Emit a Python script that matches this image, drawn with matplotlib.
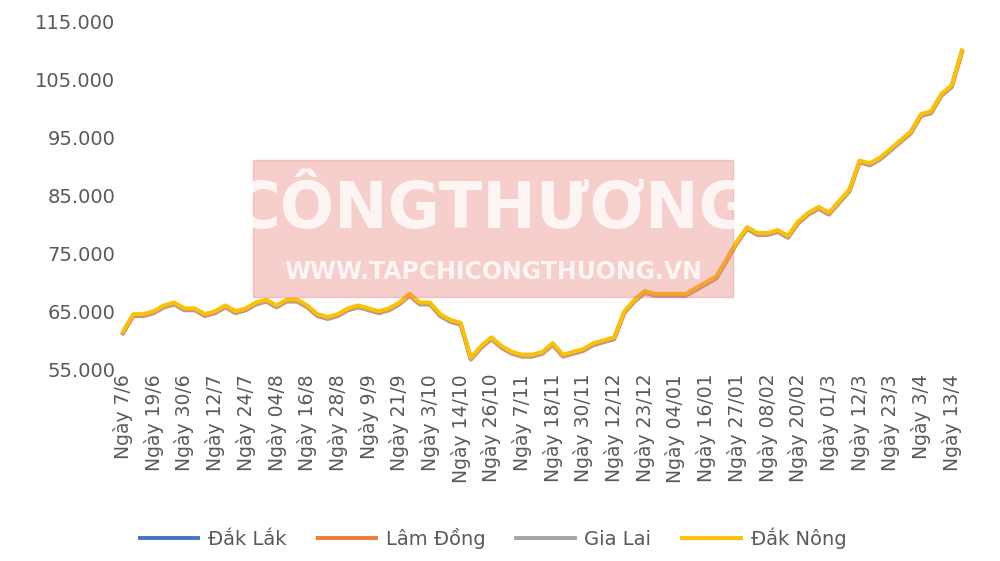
import matplotlib
matplotlib.use("Agg")
import matplotlib.pyplot as plt
import numpy as np

tick_labels = ["Ngày 7/6","Ngày 19/6","Ngày 30/6","Ngày 12/7","Ngày 24/7","Ngày 04/8","Ngày 16/8",
 "Ngày 28/8","Ngày 9/9","Ngày 21/9","Ngày 3/10","Ngày 14/10","Ngày 26/10","Ngày 7/11","Ngày 18/11",
 "Ngày 30/11","Ngày 12/12","Ngày 23/12","Ngày 04/01","Ngày 16/01","Ngày 27/01","Ngày 08/02",
 "Ngày 20/02","Ngày 01/3","Ngày 12/3","Ngày 23/3","Ngày 3/4","Ngày 13/4"]
dak_nong = [61.5,64.5,64.5, 65,66,66.5, 65.5,65.5,64.5, 65,66,65, 65.5,66.5,67, 66,67,67,
 66,64.5,64, 64.5,65.5,66, 65.5,65,65.5, 66.5,68,66.5,
 66.5,64.5,63.5, 63,57,59, 60.5,59,58, 57.5,57.5,58, 59.5,57.5,58, 58.5,59.5,60, 60.5,65,67,
 68.5,68,68, 68,68,69,
 70,71,74, 77,79.5,78.5, 78.5,79,78, 80.5,82,83, 82,84,86, 91,90.5,91.5, 93,94.5,96,
 99,99.5,102.5, 104,110]
series = {"Đắk Lắk": -0.15, "Lâm Đồng": -0.35, "Gia Lai": -0.25, "Đắk Nông": 0.0}
colors = {"Đắk Lắk": "#4472C4", "Lâm Đồng": "#ED7D31", "Gia Lai": "#A5A5A5", "Đắk Nông": "#FFC000"}

fig = plt.figure(figsize=(10, 5.61), dpi=100)
ax = fig.add_axes([0.12, 0.342, 0.845, 0.62])
x = np.arange(len(dak_nong))
for name, off in series.items():
    ax.plot(x, np.array(dak_nong) + off, color=colors[name], lw=2.8, label=name)
ax.set_xlim(-0.3, x[-1] + 0.3)
ax.set_ylim(55, 115)
ax.set_yticks(np.arange(55, 116, 10))
ax.set_yticklabels([f"{v}.000" for v in range(55, 116, 10)], fontsize=14, color="#595959")
ax.set_xticks(np.arange(0, len(dak_nong), 3))
ax.set_xticklabels(tick_labels, rotation=90, fontsize=13.5, color="#595959")
for s in ax.spines.values():
    s.set_visible(False)
ax.tick_params(length=0)
fig.patches.append(plt.Rectangle((0.253, 0.47), 0.48, 0.245, transform=fig.transFigure,
                                 color="#E8736F", alpha=0.35, zorder=0))
fig.text(0.493, 0.625, "CÔNGTHƯƠNG", fontsize=46, fontweight="bold", color="white",
         ha="center", va="center", alpha=0.8)
fig.text(0.493, 0.515, "WWW.TAPCHICONGTHUONG.VN", fontsize=17, fontweight="bold", color="white",
         ha="center", va="center", alpha=0.8)
fig.legend(loc="lower center", ncol=4, frameon=False, fontsize=14, bbox_to_anchor=(0.493, -0.01),
           handlelength=3.0, columnspacing=1.6, handletextpad=0.5, labelcolor="#595959")
fig.savefig("out.png", dpi=100)
